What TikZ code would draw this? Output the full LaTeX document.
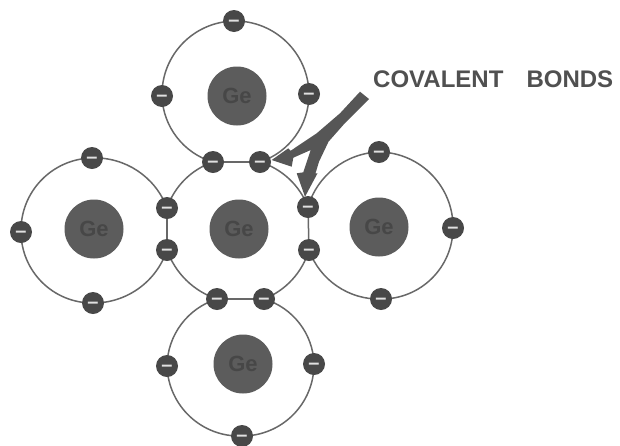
\documentclass[tikz,border=0pt]{standalone}
\usepackage{fontspec}
\setmainfont{Liberation Sans}
\definecolor{dk}{HTML}{484848}
\definecolor{nuc}{HTML}{5C5C5C}
\definecolor{ge}{HTML}{474747}
\definecolor{orb}{HTML}{686868}
\definecolor{arw}{HTML}{565656}
\definecolor{lab}{HTML}{505050}
\pgfdeclarelayer{orbits}
\pgfsetlayers{orbits,main}
\tikzset{
 orbit/.style={draw=orb,line width=1.5pt},
 arcA/.style={bend right=45},
 arcB/.style={bend right=36,looseness=0.94},
 arcC/.style={bend right=26,looseness=0.9},
 nucleus/.style={circle,fill=nuc,minimum size=59pt,inner sep=0pt,text=ge,font=\fontsize{22}{22}\selectfont\bfseries},
 electron/.style={circle,fill=dk,minimum size=22pt,inner sep=0pt,text=white!88!black,font=\fontsize{20}{20}\selectfont\bfseries},
 lbl/.style={text=lab,font=\fontsize{24}{24}\selectfont\bfseries,inner sep=0pt,anchor=base west}
}
\newcommand{\elec}[3]{\node[electron] (#1) at (#2,#3) {\smash{\raisebox{-.27em}{–}}};}
\begin{document}
\begin{tikzpicture}[x=1pt,y=-1pt]
\useasboundingbox (0,0) rectangle (620,445);
% nuclei
\node[nucleus] (nT) at (237,96) {Ge};
\node[nucleus] (nC) at (239,229) {Ge};
\node[nucleus] (nL) at (94,229) {Ge};
\node[nucleus] (nR) at (379,227) {Ge};
\node[nucleus] (nB) at (243,364) {Ge};
% electrons
\elec{a1}{234}{21}\elec{a2}{162}{96}\elec{a3}{309}{94}
\elec{b1}{213}{162}\elec{b2}{260}{162}
\elec{c1}{167}{208}\elec{c2}{167}{250}\elec{c3}{308}{207}\elec{c4}{309}{250}
\elec{d1}{217}{299}\elec{d2}{264}{299}
\elec{e1}{92}{158}\elec{e2}{21}{232}\elec{e3}{93}{303}
\elec{f1}{379}{152}\elec{f2}{453}{228}\elec{f3}{381}{299}
\elec{g1}{167}{366}\elec{g2}{314}{364}\elec{g3}{242}{436}
% orbits (anticlockwise arcs, straight shared bonds)
\begin{pgfonlayer}{orbits}
\fill[white] (0,0) rectangle (620,445);
\begin{scope}[orbit]
\draw (a1.center) to[arcA] (a2.center);
\draw (a2.center) to[arcB] (b1.center);
\draw (b2.center) to[arcB] (a3.center);
\draw (a3.center) to[arcA] (a1.center);
\draw (b1) -- (b2);
\draw (b1.center) to[arcC] (c1.center);
\draw (c1) -- (c2);
\draw (c2.center) to[arcC] (d1.center);
\draw (d1) -- (d2);
\draw (d2.center) to[arcC] (c4.center);
\draw (c4) -- (c3);
\draw (c3.center) to[arcC] (b2.center);
\draw (e1.center) to[arcA] (e2.center);
\draw (e2.center) to[arcA] (e3.center);
\draw (e3.center) to[arcB] (c2.center);
\draw (c1.center) to[arcB] (e1.center);
\draw (f1.center) to[arcB] (c3.center);
\draw (c4.center) to[arcB] (f3.center);
\draw (f3.center) to[arcA] (f2.center);
\draw (f2.center) to[arcA] (f1.center);
\draw (d1.center) to[arcB] (g1.center);
\draw (g1.center) to[arcA] (g3.center);
\draw (g3.center) to[arcA] (g2.center);
\draw (g2.center) to[arcB] (d2.center);
\end{scope}
\end{pgfonlayer}
% arrows
\fill[arw] (360,91.7) -- (369,99) -- (345,123) -- (328.5,141.7) -- (319,161.7) -- (315.5,173.3) -- (317.5,173.3) -- (305,196.7) -- (296.7,173.3) -- (303.3,172.3) -- (310.7,150) -- (293.3,157.7) -- (291.7,166.7) -- (271.7,160) -- (288.3,148.3) -- (290.7,150.7) -- (316.7,133.3) -- (340,113.3) -- cycle;
\node[lbl] (t) at (373,87) {COVALENT\hspace{16.5pt} BONDS};
\end{tikzpicture}
\end{document}
